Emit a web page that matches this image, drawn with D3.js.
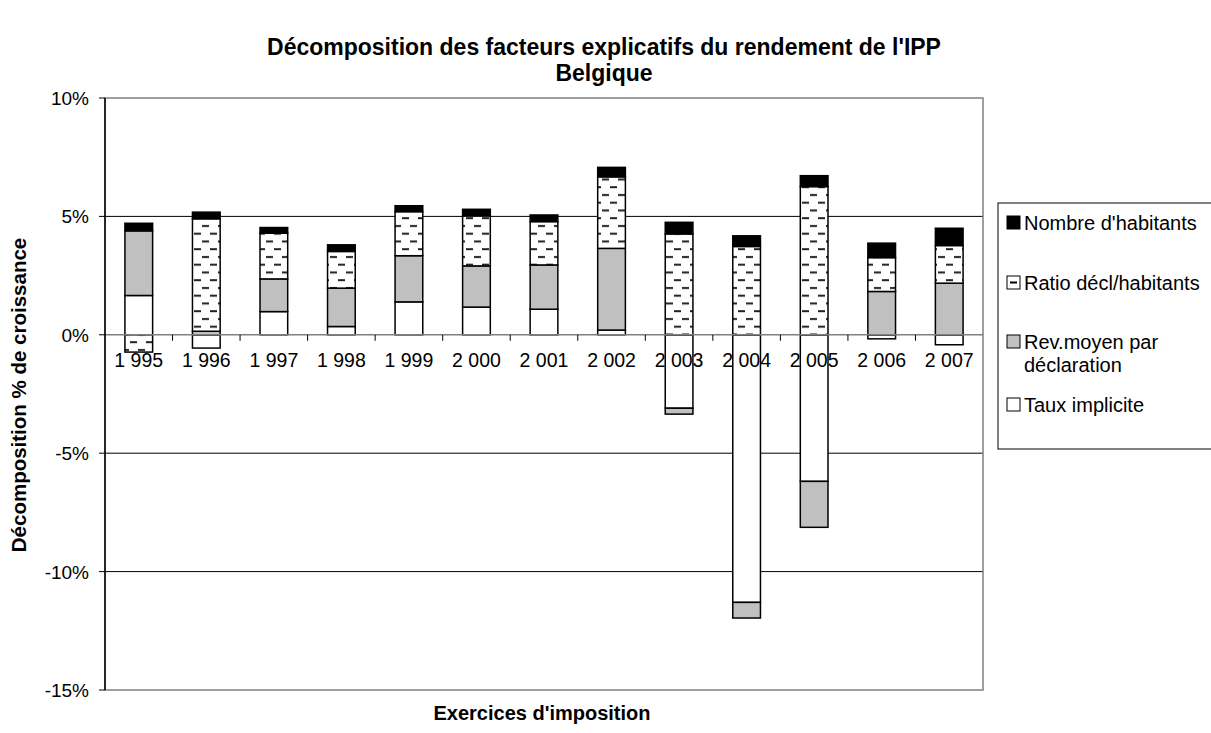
<!DOCTYPE html>
<html>
<head>
<meta charset="utf-8">
<script src="https://cdn.jsdelivr.net/npm/d3@7"></script>
<style>
	body { margin: 0; background: #fff; }
	svg { font-family: Arial, "Liberation Sans", sans-serif; }
</style>
</head>
<body>
<svg id="chart" width="1211" height="733"></svg>
<script>
// Exercices d'imposition
const years = ["1 995", "1 996", "1 997", "1 998", "1 999", "2 000", "2 001", "2 002", "2 003", "2 004", "2 005", "2 006", "2 007"];

// Contributions (in %), stacked in this order from the zero line
const tauxImplicite = [1.66, -0.56, 0.98, 0.35, 1.39, 1.17, 1.08, 0.20, -3.10, -11.30, -6.19, -0.17, -0.42];
const revMoyen = [2.73, 0.15, 1.38, 1.62, 1.95, 1.74, 1.87, 3.45, -0.25, -0.66, -1.94, 1.83, 2.18];
const ratioDecl = [-0.73, 4.75, 1.93, 1.55, 1.86, 2.11, 1.83, 3.02, 4.26, 3.73, 6.26, 1.43, 1.59];
const nombreHab = [0.32, 0.28, 0.24, 0.28, 0.25, 0.28, 0.28, 0.40, 0.49, 0.45, 0.46, 0.61, 0.73];

const seriesKeys = ["Taux implicite", "Rev.moyen par déclaration", "Ratio décl/habitants", "Nombre d'habitants"];
const yTicks = [10, 5, 0, -5, -10, -15];

const svg = d3.select("#chart");

const margin = { left: 105, right: 228, top: 98, bottom: 43 };
const width = 1211 - margin.left - margin.right;
const height = 733 - margin.top - margin.bottom;

// Build table
const table = years.map(function(y, i) {
	return {
		year: y,
		"Taux implicite": tauxImplicite[i],
		"Rev.moyen par déclaration": revMoyen[i],
		"Ratio décl/habitants": ratioDecl[i],
		"Nombre d'habitants": nombreHab[i]
	};
});

const stacked = d3.stack()
	.keys(seriesKeys)
	.offset(d3.stackOffsetDiverging)(table);

const x = d3.scaleBand().domain(years).range([0, width]).paddingInner(0.59).paddingOuter(0.295);
const y = d3.scaleLinear().domain([-15, 10]).range([height, 0]);

// Hatch pattern for the ratio series
const defs = svg.append("defs");
const pat = defs.append("pattern")
	.attr("id", "dash")
	.attr("patternUnits", "userSpaceOnUse")
	.attr("width", 16)
	.attr("height", 15.5);
pat.append("rect").attr("width", 16).attr("height", 15.5).attr("fill", "#fff");
pat.append("rect").attr("x", 1).attr("y", 3).attr("width", 7).attr("height", 2).attr("fill", "#222");
pat.append("rect").attr("x", 9).attr("y", 10.7).attr("width", 7).attr("height", 2).attr("fill", "#222");

const fills = {
	"Taux implicite": "#ffffff",
	"Rev.moyen par déclaration": "#c0c0c0",
	"Ratio décl/habitants": "url(#dash)",
	"Nombre d'habitants": "#000000"
};

const g = svg.append("g").attr("transform", `translate(${margin.left},${margin.top})`);

// Gridlines
g.selectAll(".grid")
	.data(yTicks.filter(function(t) { return t !== 0 && t !== -15 && t !== 10; }))
	.enter().append("line")
	.attr("x1", 0).attr("x2", width)
	.attr("y1", function(d) { return y(d); }).attr("y2", function(d) { return y(d); })
	.attr("stroke", "#000").attr("stroke-width", 1);

// Plot border
g.append("rect")
	.attr("x", 0).attr("y", 0).attr("width", width).attr("height", height)
	.attr("fill", "none").attr("stroke", "#808080").attr("stroke-width", 1.5);

// Bars
g.selectAll(".series")
	.data(stacked)
	.enter().append("g")
	.attr("class", "series")
	.attr("fill", function(d) { return fills[d.key]; })
	.selectAll("rect")
	.data(function(d) { return d; })
	.enter().append("rect")
	.attr("x", function(d) { return x(d.data.year); })
	.attr("width", x.bandwidth())
	.attr("y", function(d) { return y(Math.max(d[0], d[1])); })
	.attr("height", function(d) { return Math.abs(y(d[0]) - y(d[1])); })
	.attr("stroke", "#000")
	.attr("stroke-width", 1.5);

// Zero (category) axis
g.append("line")
	.attr("x1", 0).attr("x2", width)
	.attr("y1", y(0)).attr("y2", y(0))
	.attr("stroke", "#808080").attr("stroke-width", 1.5);

const step = x.step();
g.selectAll(".xtick")
	.data(d3.range(1, years.length))
	.enter().append("line")
	.attr("x1", function(d) { return d * step; }).attr("x2", function(d) { return d * step; })
	.attr("y1", y(0)).attr("y2", y(0) + 6)
	.attr("stroke", "#000").attr("stroke-width", 1);

g.selectAll(".xlabel")
	.data(years)
	.enter().append("text")
	.attr("x", function(d) { return x(d) + x.bandwidth() / 2; })
	.attr("y", y(0) + 32)
	.attr("text-anchor", "middle")
	.attr("font-size", 19.5)
	.text(function(d) { return d; });

// Y axis
g.append("line")
	.attr("x1", 0).attr("x2", 0).attr("y1", 0).attr("y2", height)
	.attr("stroke", "#000").attr("stroke-width", 1.5);

g.selectAll(".ytick")
	.data(yTicks)
	.enter().append("line")
	.attr("x1", -6).attr("x2", 0)
	.attr("y1", function(d) { return y(d); }).attr("y2", function(d) { return y(d); })
	.attr("stroke", "#000");

g.selectAll(".ylabel")
	.data(yTicks)
	.enter().append("text")
	.attr("x", -16)
	.attr("y", function(d) { return y(d) + 7; })
	.attr("text-anchor", "end")
	.attr("font-size", 19)
	.text(function(d) { return d + "%"; });

// Titles
svg.append("text")
	.attr("x", 604).attr("y", 55)
	.attr("text-anchor", "middle")
	.attr("font-size", 23).attr("font-weight", "bold")
	.text("Décomposition des facteurs explicatifs du rendement de l'IPP");
svg.append("text")
	.attr("x", 604).attr("y", 81)
	.attr("text-anchor", "middle")
	.attr("font-size", 23).attr("font-weight", "bold")
	.text("Belgique");

svg.append("text")
	.attr("transform", "translate(26,395) rotate(-90)")
	.attr("text-anchor", "middle")
	.attr("font-size", 20.5).attr("font-weight", "bold")
	.text("Décomposition % de croissance");

svg.append("text")
	.attr("x", 542).attr("y", 720)
	.attr("text-anchor", "middle")
	.attr("font-size", 20).attr("font-weight", "bold")
	.text("Exercices d'imposition");

// Legend
const legend = svg.append("g").attr("transform", "translate(998,203)");
legend.append("rect")
	.attr("width", 240).attr("height", 246)
	.attr("fill", "#fff").attr("stroke", "#000").attr("stroke-width", 1);

const legendItems = [
	{ key: "Nombre d'habitants", lines: ["Nombre d'habitants"], y: 27 },
	{ key: "Ratio décl/habitants", lines: ["Ratio décl/habitants"], y: 87 },
	{ key: "Rev.moyen par déclaration", lines: ["Rev.moyen par", "déclaration"], y: 146 },
	{ key: "Taux implicite", lines: ["Taux implicite"], y: 209 }
];

const li = legend.selectAll(".item")
	.data(legendItems)
	.enter().append("g")
	.attr("transform", function(d) { return `translate(0,${d.y})`; });

li.append("rect")
	.attr("x", 9).attr("y", -14).attr("width", 13).attr("height", 13)
	.attr("fill", function(d) { return d.key === "Ratio décl/habitants" ? "#fff" : fills[d.key]; })
	.attr("stroke", "#000").attr("stroke-width", 1);

li.filter(function(d) { return d.key === "Ratio décl/habitants"; })
	.append("rect")
	.attr("x", 12).attr("y", -8.5).attr("width", 7).attr("height", 2).attr("fill", "#000");

li.selectAll("text")
	.data(function(d) { return d.lines; })
	.enter().append("text")
	.attr("x", 26)
	.attr("y", function(d, i) { return i * 23; })
	.attr("font-size", 20)
	.text(function(d) { return d; });
</script>
</body>
</html>
